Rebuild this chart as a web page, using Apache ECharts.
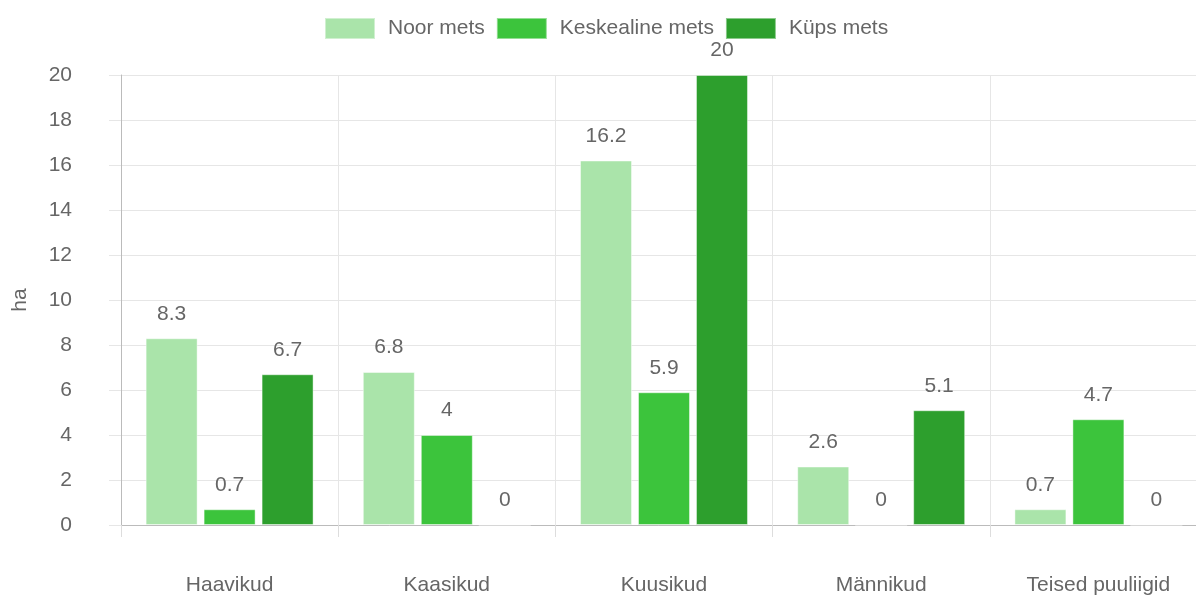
<!DOCTYPE html>
<html>
<head>
<meta charset="utf-8">
<script src="https://cdn.jsdelivr.net/npm/echarts@6/dist/echarts.min.js"></script>
<style>
  html, body { margin: 0; padding: 0; background: #fff; }
  #chart { width: 1196px; height: 599px; }
</style>
</head>
<body>
<div id="chart"></div>
<script>
var categories = ['Haavikud', 'Kaasikud', 'Kuusikud', 'Männikud', 'Teised puuliigid'];
var seriesNames = ['Noor mets', 'Keskealine mets', 'Küps mets'];
var noorMets = [8.3, 6.8, 16.2, 2.6, 0.7];
var keskealineMets = [0.7, 4, 5.9, 0, 4.7];
var kupsMets = [6.7, 0, 20, 5.1, 0];
var colors = ['#aae4aa', '#3cc43c', '#2d9f2d'];

var FONT = '"Liberation Sans", Arial, sans-serif';

var chart = echarts.init(document.getElementById('chart'));

// ühe tulpade seeria koostamine
function makeSeries(name, data, color) {
  return {
    name: name,
    type: 'bar',
    data: data,
    barWidth: 52,
    barGap: '11.5%',
    itemStyle: {
      color: color,
      borderColor: 'rgba(255,255,255,0.45)',
      borderWidth: 1
    },
    label: {
      show: true,
      position: 'top',
      distance: 14,
      color: '#666',
      fontSize: 21,
      fontFamily: FONT
    }
  };
}

chart.setOption({
  animation: false,
  color: colors,
  textStyle: { fontFamily: FONT },
  legend: {
    top: 17,
    left: 324,
    itemWidth: 50,
    itemHeight: 21,
    itemGap: 11,
    icon: 'rect',
    padding: 0,
    textStyle: { color: '#666', fontSize: 21, fontFamily: FONT, padding: [0, 0, 0, 8] },
    data: seriesNames
  },
  grid: { left: 121, right: -11, top: 75, bottom: 74, containLabel: false, outerBoundsMode: 'none' },
  xAxis: {
    type: 'category',
    data: categories,
    axisLine: { lineStyle: { color: '#bbb' } },
    axisTick: { show: true, length: 12, lineStyle: { color: '#ddd' } },
    splitLine: { show: true, lineStyle: { color: '#e6e6e6' } },
    axisLabel: { color: '#666', fontSize: 21, margin: 50, fontFamily: FONT }
  },
  yAxis: {
    type: 'value',
    min: 0,
    max: 20,
    interval: 2,
    name: 'ha',
    nameLocation: 'middle',
    nameGap: 90,
    nameRotate: 90,
    nameTextStyle: { color: '#666', fontSize: 21, fontFamily: FONT },
    axisLine: { show: true, lineStyle: { color: '#bbb' } },
    axisTick: { show: true, length: 12, lineStyle: { color: '#e6e6e6' } },
    splitLine: { show: true, lineStyle: { color: '#e6e6e6' } },
    axisLabel: { color: '#666', fontSize: 21, margin: 49, fontFamily: FONT }
  },
  series: [
    makeSeries(seriesNames[0], noorMets, colors[0]),
    makeSeries(seriesNames[1], keskealineMets, colors[1]),
    makeSeries(seriesNames[2], kupsMets, colors[2])
  ]
});

window.addEventListener('resize', function() {
  chart.resize();
});
</script>
</body>
</html>
